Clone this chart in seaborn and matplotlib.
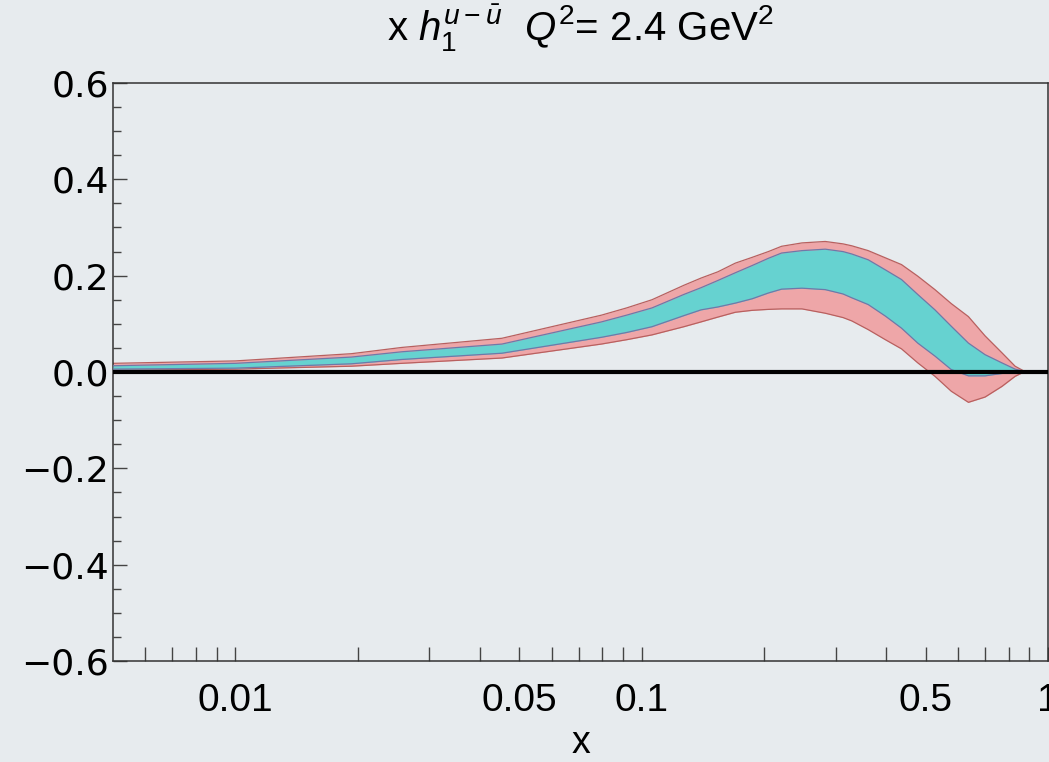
import numpy as np
import pandas as pd
import matplotlib
matplotlib.use("Agg")
import matplotlib.pyplot as plt
from matplotlib.ticker import FixedLocator, NullFormatter, FixedFormatter
import seaborn as sns

# ---- data ----
x_vals = [0.005, 0.01, 0.0193, 0.0257, 0.0453, 0.0796, 0.0918, 0.106, 0.127, 0.140, 0.154,
          0.170, 0.187, 0.205, 0.221, 0.248, 0.283, 0.313, 0.329, 0.361, 0.398, 0.436,
          0.478, 0.527, 0.578, 0.637, 0.70, 0.770, 0.83, 0.877]
outer_upper = [0.018, 0.023, 0.038, 0.051, 0.070, 0.118, 0.133, 0.150, 0.180, 0.195, 0.208,
               0.226, 0.238, 0.250, 0.261, 0.268, 0.271, 0.266, 0.262, 0.252, 0.237, 0.223,
               0.199, 0.171, 0.142, 0.115, 0.075, 0.040, 0.012, 0.001]
inner_upper = [0.013, 0.018, 0.031, 0.042, 0.058, 0.104, 0.118, 0.133, 0.161, 0.175, 0.190,
               0.206, 0.221, 0.236, 0.247, 0.252, 0.255, 0.250, 0.245, 0.233, 0.212, 0.192,
               0.161, 0.129, 0.095, 0.060, 0.036, 0.019, 0.006, 0.001]
inner_lower = [0.006, 0.008, 0.017, 0.026, 0.039, 0.072, 0.082, 0.094, 0.117, 0.129, 0.135,
               0.143, 0.152, 0.164, 0.172, 0.174, 0.171, 0.162, 0.154, 0.140, 0.116, 0.091,
               0.060, 0.033, 0.005, -0.008, -0.008, -0.003, 0.000, 0.001]
outer_lower = [0.004, 0.006, 0.012, 0.018, 0.029, 0.058, 0.067, 0.077, 0.094, 0.104, 0.114,
               0.124, 0.128, 0.130, 0.131, 0.131, 0.122, 0.113, 0.106, 0.088, 0.067, 0.048,
               0.019, -0.009, -0.040, -0.063, -0.052, -0.030, -0.009, 0.001]

title_text = r'x $h_1^{u-\bar{u}}$  $Q^2$= 2.4 GeV$^2$'
xlabel_text = 'x'
x_major = [0.01, 0.05, 0.1, 0.5, 1]
x_major_labels = ['0.01', '0.05', '0.1', '0.5', '1']
x_minor = [0.006, 0.007, 0.008, 0.009, 0.02, 0.03, 0.04, 0.06, 0.07, 0.08, 0.09,
           0.2, 0.3, 0.4, 0.6, 0.7, 0.8, 0.9]
y_major = [-0.6, -0.4, -0.2, 0.0, 0.2, 0.4, 0.6]
y_major_labels = ['\u22120.6', '\u22120.4', '\u22120.2', '0.0', '0.2', '0.4', '0.6']

df = pd.DataFrame({'x': x_vals, 'ou': outer_upper, 'iu': inner_upper,
                   'il': inner_lower, 'ol': outer_lower})

# ---- style ----
sns.set_theme(style="ticks")
bg = '#E7EBEE'
plt.rcParams['font.family'] = ['Liberation Sans', 'DejaVu Sans']
plt.rcParams['mathtext.fontset'] = 'custom'
plt.rcParams['mathtext.rm'] = 'Liberation Sans'
plt.rcParams['mathtext.it'] = 'Liberation Sans:italic'
plt.rcParams['text.color'] = 'black'
plt.rcParams['axes.labelcolor'] = 'black'
plt.rcParams['xtick.labelcolor'] = 'black'
plt.rcParams['ytick.labelcolor'] = 'black'

fig = plt.figure(figsize=(10.49, 7.62), dpi=100, facecolor=bg)
ax = fig.add_axes([113/1049, 1 - 661/762, (1048-113)/1049, (661-83)/762])
ax.set_facecolor(bg)

pink_fill = '#EEA6A8'
pink_edge = '#B8605F'
cyan_fill = '#66D2D0'
cyan_edge = '#7078A8'

ax.fill_between(df['x'], df['ol'], df['ou'], color=pink_fill, lw=0, zorder=2)
ax.fill_between(df['x'], df['il'], df['iu'], color=cyan_fill, lw=0, zorder=3)
for col, c, z in [('ou', pink_edge, 2.5), ('ol', pink_edge, 2.5),
                  ('iu', cyan_edge, 3.5), ('il', cyan_edge, 3.5)]:
    sns.lineplot(data=df, x='x', y=col, ax=ax, color=c, lw=0.9, zorder=z,
                 estimator=None, sort=False)

ax.axhline(0, color='black', lw=3.0, zorder=5)

ax.set_xscale('log')
ax.set_xlim(0.005, 1)
ax.set_ylim(-0.6, 0.6)

ax.xaxis.set_major_locator(FixedLocator(x_major))
ax.xaxis.set_major_formatter(FixedFormatter(x_major_labels))
ax.xaxis.set_minor_locator(FixedLocator(x_minor))
ax.xaxis.set_minor_formatter(NullFormatter())
ax.set_yticks(y_major)
ax.set_yticklabels(y_major_labels, fontfamily='DejaVu Sans')
ax.yaxis.set_minor_locator(FixedLocator(np.arange(-0.55, 0.6, 0.05)))

ax.tick_params(axis='both', which='both', direction='in', color='#444444', width=1.0,
               top=False, right=False)
ax.tick_params(axis='x', which='both', length=10, labelsize=28, pad=16)
ax.tick_params(axis='y', which='major', length=10, labelsize=26, pad=3)
ax.tick_params(axis='y', which='minor', length=6)

for s in ax.spines.values():
    s.set_color('#333333')
    s.set_linewidth(1.1)

ax.set_xlabel(xlabel_text, fontsize=27, labelpad=4)
ax.set_ylabel('')
ax.set_title(title_text, fontsize=29, pad=30)

fig.savefig('out.png', dpi=100, facecolor=bg)
